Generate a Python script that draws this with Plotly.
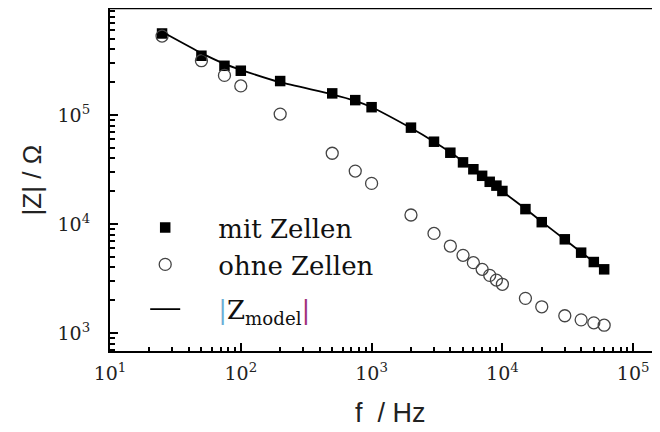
import plotly.graph_objects as go

# frequencies in Hz
freq = [25, 50, 75, 100, 200, 500, 750, 1000, 2000, 3000, 4000, 5000, 6000,
        7000, 8000, 9000, 10000, 15000, 20000, 30000, 40000, 50000, 60000]
# |Z| with cells (filled squares)
z_mit = [5.6e5, 3.5e5, 2.83e5, 2.55e5, 2.05e5, 1.58e5, 1.37e5, 1.18e5, 7.66e4,
         5.69e4, 4.51e4, 3.68e4, 3.18e4, 2.77e4, 2.44e4, 2.25e4, 2.01e4, 1.37e4,
         1.04e4, 7.24e3, 5.46e3, 4.48e3, 3.84e3]
# |Z| without cells (open circles)
z_ohne = [5.3e5, 3.15e5, 2.31e5, 1.85e5, 1.02e5, 4.46e4, 3.06e4, 2.36e4, 1.21e4,
          8.2e3, 6.28e3, 5.16e3, 4.42e3, 3.84e3, 3.38e3, 3.06e3, 2.80e3, 2.08e3,
          1.74e3, 1.44e3, 1.32e3, 1.24e3, 1.18e3]
# model curve
z_model = [5.8e5, 3.7e5, 2.95e5, 2.6e5, 2.0e5, 1.55e5, 1.35e5, 1.18e5, 7.6e4,
           5.7e4, 4.55e4, 3.75e4, 3.2e4, 2.8e4, 2.48e4, 2.22e4, 2.0e4, 1.38e4,
           1.05e4, 7.2e3, 5.5e3, 4.5e3, 3.8e3]

x_ticks = [1e1, 1e2, 1e3, 1e4, 1e5]
x_ticktext = ["10<sup>1</sup>", "10<sup>2</sup>", "10<sup>3</sup>", "10<sup>4</sup>", "10<sup>5</sup>"]
y_ticks = [1e3, 1e4, 1e5]
y_ticktext = ["10<sup>3</sup>", "10<sup>4</sup>", "10<sup>5</sup>"]

x_minor = [m * 10 ** d for d in range(1, 6) for m in range(2, 10)]
y_minor = [m * 10 ** d for d in range(2, 6) for m in range(2, 10)]

serif = "DejaVu Serif"
sans = "Liberation Sans"
pad = "\u00a0" * 4

fig = go.Figure()
fig.add_trace(go.Scatter(
    x=freq, y=z_mit, mode="markers", name=pad + "mit Zellen", legendgroup="data",
    marker=dict(symbol="square", size=10.5, color="black", line=dict(width=0)),
))
fig.add_trace(go.Scatter(
    x=freq, y=z_ohne, mode="markers", name=pad + "ohne Zellen", legendgroup="data",
    marker=dict(symbol="circle-open", size=12, color="#444444", line=dict(width=1.3)),
))
fig.add_trace(go.Scatter(
    x=freq, y=z_model, mode="lines", legendgroup="model",
    name=pad + '<span style="color:#6aaed6">|</span>Z<sub>model</sub><span style="color:#a0307a">|</span>',
    line=dict(color="black", width=1.8, shape="spline", smoothing=0.6),
))

axis_common = dict(
    showline=True, linecolor="black", linewidth=2, showgrid=False, zeroline=False,
    ticks="inside", ticklen=8, tickwidth=2, tickcolor="black",
    tickfont=dict(family=serif, size=19, color="#222222"),
)

fig.update_xaxes(
    type="log", range=[1, 5.205], tickvals=x_ticks, ticktext=x_ticktext,
    ticklabelstandoff=4,
    minor=dict(ticks="inside", ticklen=4, tickwidth=2, tickcolor="black",
               tickvals=x_minor, showgrid=False),
    **axis_common,
)
fig.update_yaxes(
    type="log", range=[2.835, 5.982], tickvals=y_ticks, ticktext=y_ticktext,
    ticklabelstandoff=14,
    minor=dict(ticks="inside", ticklen=5, tickwidth=2, tickcolor="black",
               tickvals=y_minor, showgrid=False),
    **axis_common,
)

fig.add_shape(type="line", xref="paper", yref="paper", x0=0, x1=1, y0=1, y1=1,
              line=dict(color="black", width=2.5))

fig.add_annotation(text="|Z| / Ω", xref="paper", yref="paper", x=-0.142, y=0.5,
                   xanchor="center", yanchor="middle", textangle=-90, showarrow=False,
                   font=dict(family=sans, size=26, color="#222222"))
fig.add_annotation(text="f\u00a0\u00a0/ Hz", xref="paper", yref="paper", x=0.51, y=-0.18,
                   xanchor="center", yanchor="middle", showarrow=False,
                   font=dict(family=sans, size=27, color="#222222"))

# the page body has an 8px margin, so the figure is sized to fill the window from there
fig.update_layout(
    width=652, height=424,
    margin=dict(l=102, r=0, t=0, b=81),
    paper_bgcolor="white", plot_bgcolor="white",
    showlegend=True,
    legend=dict(x=0.064, y=0.428, xanchor="left", yanchor="top",
                bgcolor="rgba(0,0,0,0)", borderwidth=0,
                font=dict(family=serif, size=26, color="#111111"),
                itemwidth=30, tracegroupgap=8),
)

fig.write_html("out.html")
